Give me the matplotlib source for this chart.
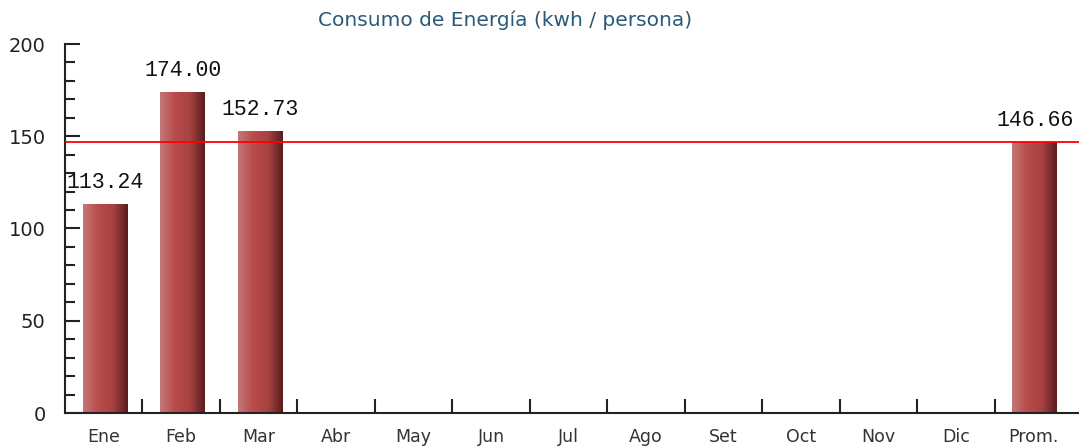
import matplotlib
matplotlib.use("Agg")
import matplotlib.pyplot as plt
import numpy as np
from matplotlib.colors import LinearSegmentedColormap
from matplotlib.ticker import MultipleLocator, FixedLocator

categories = ["Ene", "Feb", "Mar", "Abr", "May", "Jun", "Jul", "Ago", "Set", "Oct", "Nov", "Dic", "Prom."]
values = [113.24, 174.00, 152.73, None, None, None, None, None, None, None, None, None, 146.66]
average = 146.66
title = "Consumo de Energía (kwh / persona)"

fig = plt.figure(figsize=(10.79, 4.48), dpi=100)
ax = fig.add_axes([65/1079, 1-413/448, 1-65/1079, (413-44)/448])

x = np.arange(len(categories))
cmap = LinearSegmentedColormap.from_list("barg", ["#c27878", "#b84c4a", "#a84242", "#5a1c1c"])
grad = np.linspace(0, 1, 256).reshape(1, -1)
bar_w = 0.58
for xi, v in zip(x, values):
    if v is None:
        continue
    b = ax.bar(xi + 0.02, v, width=bar_w, color="none", edgecolor="none", zorder=2)[0]
    im = ax.imshow(grad, cmap=cmap, aspect="auto",
                   extent=[xi + 0.02 - bar_w/2, xi + 0.02 + bar_w/2, 0, v], zorder=2)
    im.set_clip_path(b)
    ax.text(xi + 0.02, v + 6, f"{v:.2f}", ha="center", va="bottom",
            family=["Liberation Mono", "DejaVu Sans Mono"], fontsize=15.5, color="#111111",
            clip_on=False)

ax.axhline(average, color="#ff0000", lw=1.3, zorder=3)

ax.set_xlim(-0.5, 12.59)
ax.set_ylim(0, 200)
ax.spines["top"].set_visible(False)
ax.spines["right"].set_visible(False)
for s in ("left", "bottom"):
    ax.spines[s].set_linewidth(1.5)
    ax.spines[s].set_color("#222222")

ax.yaxis.set_major_locator(MultipleLocator(50))
ax.yaxis.set_minor_locator(MultipleLocator(10))
ax.tick_params(axis="y", which="major", direction="in", length=11, width=1.5,
               labelsize=14, colors="#222222", pad=14)
ax.tick_params(axis="y", which="minor", direction="in", length=7, width=1.5, colors="#222222")

ax.set_xticks(x)
ax.set_xticklabels(categories)
ax.tick_params(axis="x", which="major", length=0, labelsize=12.5, colors="#333333", pad=11)
ax.xaxis.set_minor_locator(FixedLocator(x[:-1] + 0.5))
ax.tick_params(axis="x", which="minor", direction="in", length=10, width=1.5, colors="#222222")

fig.text(505/1079, 1-20/448, title, ha="center", va="center", fontsize=14.5,
         color="#2a5a78", family="DejaVu Sans")

fig.savefig("out.png", dpi=100)
